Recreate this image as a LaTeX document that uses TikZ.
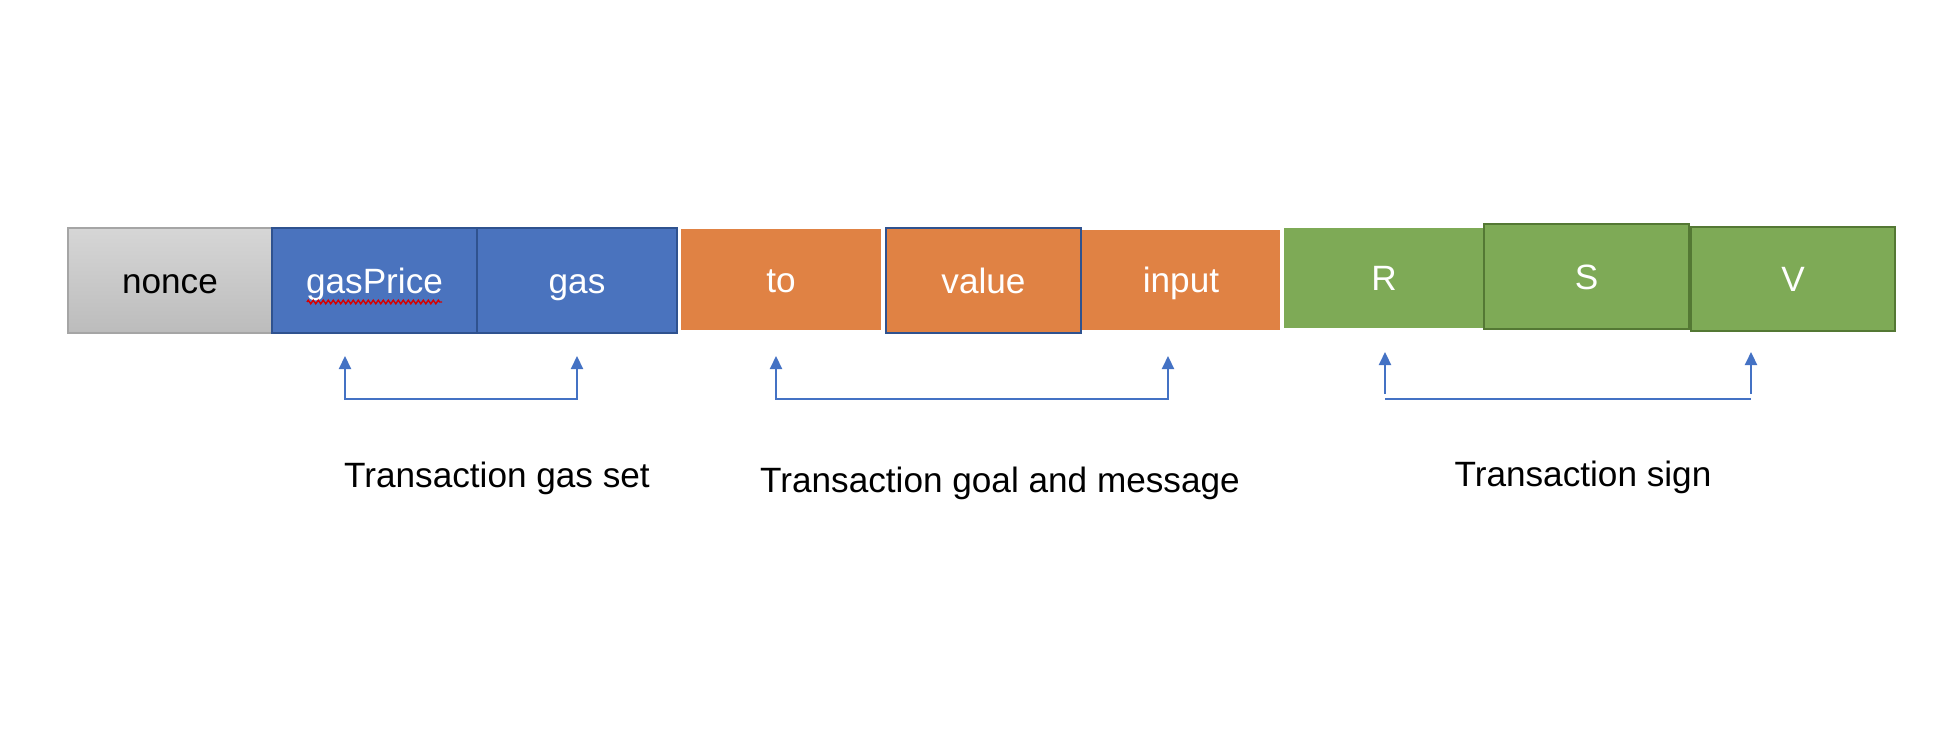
\documentclass[tikz,border=0pt]{standalone}
\usepackage{fontspec}
\setmainfont{Liberation Sans}
\usetikzlibrary{arrows.meta,decorations.pathmorphing}

\definecolor{nonceTop}{RGB}{214,214,214}
\definecolor{nonceBot}{RGB}{188,188,188}
\definecolor{nonceEdge}{RGB}{165,165,165}
\definecolor{gasBlue}{RGB}{74,115,190}
\definecolor{gasEdge}{RGB}{47,82,143}
\definecolor{txOrange}{RGB}{224,130,68}
\definecolor{signGreen}{RGB}{126,170,86}
\definecolor{signEdge}{RGB}{84,120,52}
\definecolor{arrowBlue}{RGB}{68,114,196}

% name, x left, x right, y top, y bottom, style, label
\newcommand{\fieldbox}[7]{%
  \node[field,#6,minimum width={(#3-#2)*0.01cm},minimum height={(#5-#4)*0.01cm}]
    (#1) at ({(#2+#3)/2},{(#4+#5)/2}) {#7};
}

\tikzset{
  field/.style={font=\fontsize{10}{12}\selectfont,text=white,inner sep=0pt,
                outer sep=0pt,line width=0.6pt,text height=0.95em,text depth=0.22em},
  caption/.style={font=\fontsize{10}{12}\selectfont,inner sep=0pt},
  bracket/.style={arrowBlue,line width=0.6pt},
  tipped/.style={bracket,-{Triangle[length=0.13cm,width=0.12cm]}},
  spellmark/.style={red!85!black,line width=0.4pt,
                    decorate,decoration={zigzag,segment length=0.05cm,amplitude=0.018cm}}
}

\begin{document}
\begin{tikzpicture}[x=0.01cm,y=-0.01cm]
  \useasboundingbox (0,0) rectangle (1948,746);
  % --- Fields of the transaction ---
  \fieldbox{nonce}{68}{272}{228}{333}{draw=nonceEdge,top color=nonceTop,bottom color=nonceBot,text=black}{nonce}
  \fieldbox{gasPrice}{272}{477}{228}{333}{draw=gasEdge,fill=gasBlue}{gasPrice}
  \fieldbox{gas}{477}{677}{228}{333}{draw=gasEdge,fill=gasBlue}{gas}
  \fieldbox{to}{681}{881}{229}{330}{fill=txOrange}{to}
  \fieldbox{value}{886}{1081}{228}{333}{draw=gasEdge,fill=txOrange}{value}
  \fieldbox{input}{1082}{1280}{230}{330}{fill=txOrange}{input}
  \fieldbox{R}{1284}{1484}{228}{328}{fill=signGreen}{R}
  \fieldbox{S}{1484}{1689}{224}{329}{draw=signEdge,fill=signGreen}{S}
  \fieldbox{V}{1691}{1895}{227}{331}{draw=signEdge,fill=signGreen}{V}
  \draw[spellmark] (307,302) -- (442,302);
  % --- Brackets under the groups ---
  \coordinate (gasTipL) at (345,356);  \coordinate (gasFootL) at (345,399);
  \coordinate (gasTipR) at (577,356);  \coordinate (gasFootR) at (577,399);
  \draw[bracket,{Triangle[length=0.13cm,width=0.12cm]}-{Triangle[length=0.13cm,width=0.12cm]}]
    (gasTipL) -- (gasFootL) -- (gasFootR) -- (gasTipR);
  \coordinate (msgTipL) at (776,356);  \coordinate (msgFootL) at (776,399);
  \coordinate (msgTipR) at (1168,356); \coordinate (msgFootR) at (1168,399);
  \draw[bracket,{Triangle[length=0.13cm,width=0.12cm]}-{Triangle[length=0.13cm,width=0.12cm]}]
    (msgTipL) -- (msgFootL) -- (msgFootR) -- (msgTipR);
  \coordinate (sigTipL) at (1385,352); \coordinate (sigFootL) at (1385,394);
  \coordinate (sigTipR) at (1751,352); \coordinate (sigFootR) at (1751,394);
  \draw[tipped] (sigFootL) -- (sigTipL);
  \draw[tipped] (sigFootR) -- (sigTipR);
  \draw[bracket] (1385,399) -- (1751,399);
  % --- Captions ---
  \node[caption] (gasset) at (497,478) {Transaction gas set};
  \node[caption] (goalmsg) at (1000,483) {Transaction goal and message};
  \node[caption] (txsign) at (1583,477) {Transaction sign};
\end{tikzpicture}
\end{document}
